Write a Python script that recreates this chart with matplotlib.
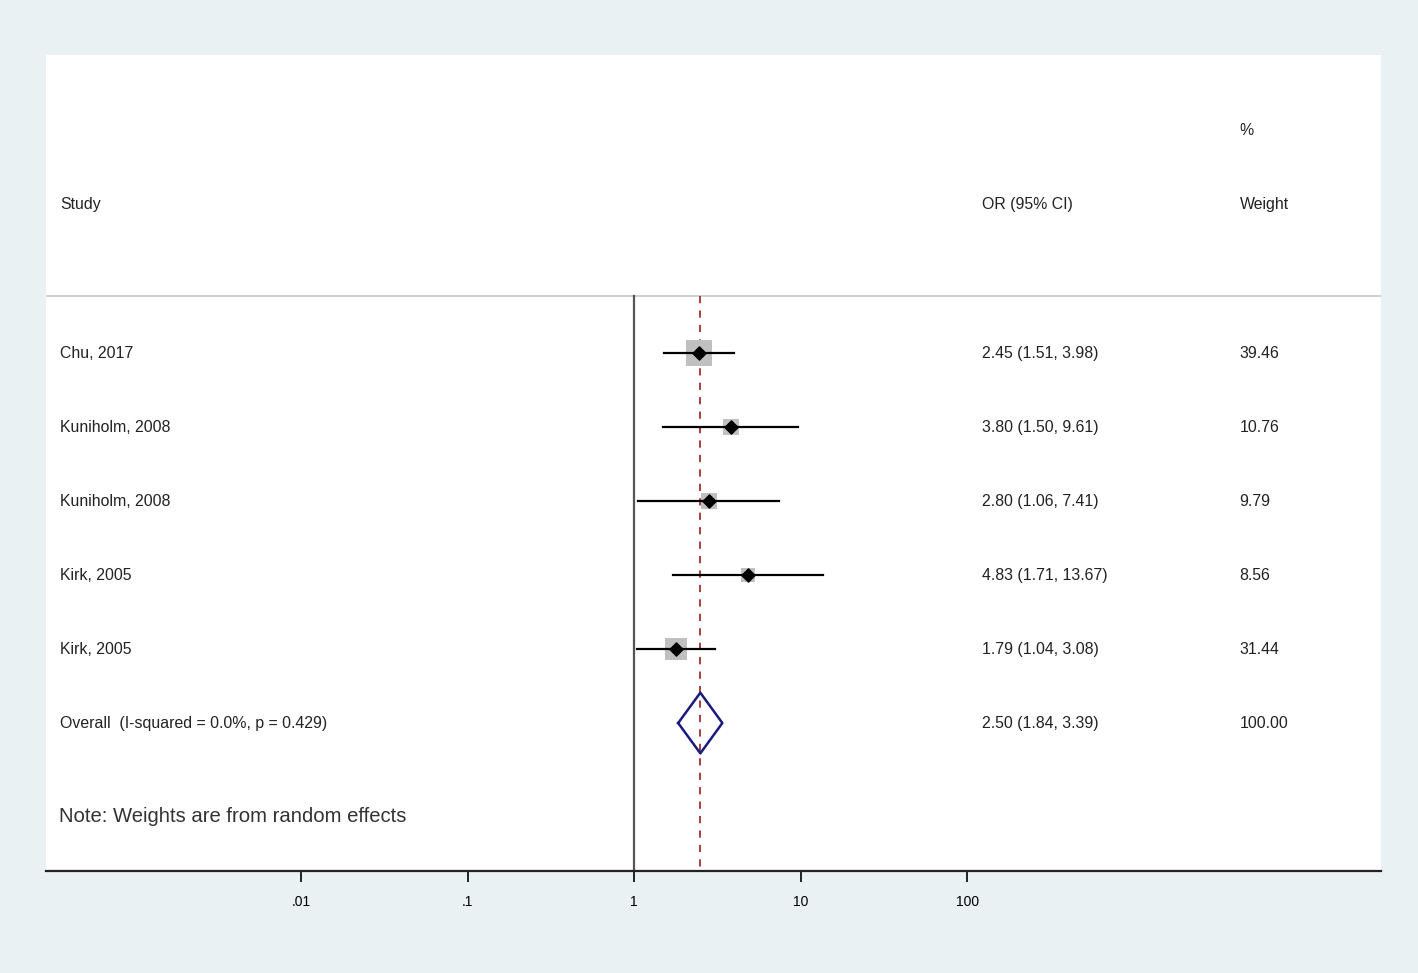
import numpy as np
import matplotlib.pyplot as plt
from matplotlib.transforms import blended_transform_factory

plt.rcParams['font.family'] = ['Liberation Sans', 'DejaVu Sans']

# data
studies = ["Chu, 2017", "Kuniholm, 2008", "Kuniholm, 2008", "Kirk, 2005", "Kirk, 2005"]
odds = [2.45, 3.80, 2.80, 4.83, 1.79]
ci_low = [1.51, 1.50, 1.06, 1.71, 1.04]
ci_high = [3.98, 9.61, 7.41, 13.67, 3.08]
weights = [39.46, 10.76, 9.79, 8.56, 31.44]
overall = (2.50, 1.84, 3.39)
overall_label = "Overall  (I-squared = 0.0%, p = 0.429)"
tick_vals = [0.01, 0.1, 1, 10, 100]
tick_labels = [".01", ".1", "1", "10", "100"]

bg = "#e9f1f3"
fig = plt.figure(figsize=(14.18, 9.73), dpi=100, facecolor=bg)
W, H = 1418, 973
ax = fig.add_axes([46 / W, (H - 871) / H, (1381 - 46) / W, (871 - 55) / H])
ax.set_facecolor("white")

ax.set_xscale("log")
ax.set_xlim(10 ** -3.532, 10 ** 4.486)
ax.set_ylim(7.0, -4.03)

for s in ["top", "right", "left"]:
    ax.spines[s].set_visible(False)
ax.spines["bottom"].set_linewidth(1.6)
ax.spines["bottom"].set_color("#222222")
ax.set_xticks(tick_vals)
ax.set_xticklabels(tick_labels)
ax.minorticks_off()
ax.tick_params(axis="x", length=8, width=1.4, color="#222222", labelsize=10, pad=9)
ax.set_yticks([])

# separator and reference lines
ax.axhline(-0.77, color="#c8c8c8", lw=1.2)
ax.plot([1, 1], [-0.77, 7.0], color="#555555", lw=1.6)
ax.plot([overall[0], overall[0]], [-0.77, 7.0], color="#a03030", lw=1.3, ls=(0, (4, 4)))

rows = np.arange(len(studies))
for i in rows:
    side = (3.2 * np.sqrt(weights[i]) + 5) * 0.72
    ax.scatter(odds[i], i, marker="s", s=side ** 2, color="#c0c0c0", zorder=2, linewidths=0)
    ax.plot([ci_low[i], ci_high[i]], [i, i], color="black", lw=1.6, zorder=3)
    ax.scatter(odds[i], i, marker="D", s=45, color="black", zorder=4)

# overall diamond
oy = 5
xs = [overall[1], overall[0], overall[2], overall[0], overall[1]]
ys = [oy, oy - 0.41, oy, oy + 0.41, oy]
ax.plot(xs, ys, color="#1a1a80", lw=1.8, zorder=4)

tr = blended_transform_factory(ax.transAxes, ax.transData)
fs = 11.4
tc = "#222222"
x_study, x_or, x_w = 0.0105, 0.701, 0.894
ax.text(x_w, -3.01, "%", transform=tr, fontsize=fs, color=tc, va="center")
ax.text(x_study, -2.01, "Study", transform=tr, fontsize=fs, color=tc, va="center")
ax.text(x_or, -2.01, "OR (95% CI)", transform=tr, fontsize=fs, color=tc, va="center")
ax.text(x_w, -2.01, "Weight", transform=tr, fontsize=fs, color=tc, va="center")
for i in rows:
    ax.text(x_study, i, studies[i], transform=tr, fontsize=fs, color=tc, va="center")
    ax.text(x_or, i, "%.2f (%.2f, %.2f)" % (odds[i], ci_low[i], ci_high[i]),
            transform=tr, fontsize=fs, color=tc, va="center")
    ax.text(x_w, i, "%.2f" % weights[i], transform=tr, fontsize=fs, color=tc, va="center")
ax.text(x_study, oy, overall_label, transform=tr, fontsize=fs, color=tc, va="center")
ax.text(x_or, oy, "%.2f (%.2f, %.2f)" % overall, transform=tr, fontsize=fs, color=tc, va="center")
ax.text(x_w, oy, "100.00", transform=tr, fontsize=fs, color=tc, va="center")
ax.text(0.0095, 6.27, "Note: Weights are from random effects", transform=tr,
        fontsize=14.6, color="#333333", va="center")

fig.savefig("out.png", dpi=100, facecolor=bg)
